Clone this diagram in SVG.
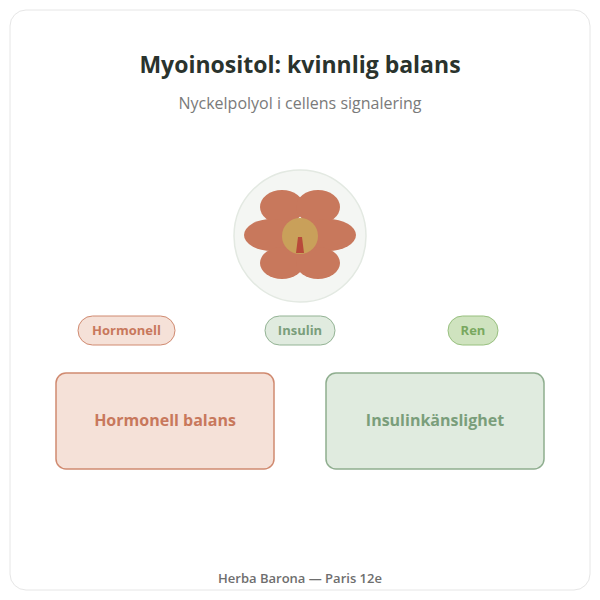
<svg xmlns="http://www.w3.org/2000/svg" width="600" height="600" viewBox="0 0 600 600">
<style>
text{font-family:"Open Sans","Noto Sans","Liberation Sans",sans-serif;text-anchor:middle}
.petal{fill:#c8785c}
.t{font-weight:700;font-size:13px}
.b{font-weight:700;font-size:16px}
</style>
<rect x="0" y="0" width="600" height="600" fill="#fff"/>
<rect x="10" y="10" width="580" height="580" rx="16" fill="#fff" stroke="#e6e6e6"/>
<text x="300" y="73" font-size="23" font-weight="700" fill="#2a332d">Myoinositol: kvinnlig balans</text>
<text x="300" y="109" font-size="16" fill="#7a7a7a">Nyckelpolyol i cellens signalering</text>
<g id="icon">
<circle cx="300" cy="236" r="66" fill="#f4f6f3" stroke="#e3e9e2" stroke-width="1.5"/>
<ellipse class="petal" cx="282" cy="207" rx="22" ry="17"/>
<ellipse class="petal" cx="318" cy="207" rx="22" ry="17"/>
<ellipse class="petal" cx="272" cy="235" rx="28" ry="16"/>
<ellipse class="petal" cx="328" cy="235" rx="28" ry="16"/>
<ellipse class="petal" cx="282" cy="263" rx="22" ry="16"/>
<ellipse class="petal" cx="318" cy="263" rx="22" ry="16"/>
<circle cx="300" cy="236" r="18" fill="#c9a05a"/>
<polygon points="298,237 302,237 304,253 296,253" fill="#b84a3a"/>
</g>
<g id="tag-hormonell"><rect x="78" y="316" width="97" height="29" rx="14.5" fill="#f5e1d8" stroke="#d08a70"/><text class="t" x="126.5" y="335" fill="#c8785c">Hormonell</text></g>
<g id="tag-insulin"><rect x="265" y="316" width="70" height="29" rx="14.5" fill="#e0ebdf" stroke="#93b394"/><text class="t" x="300" y="335" fill="#7a9e7b">Insulin</text></g>
<g id="tag-ren"><rect x="448" y="316" width="50" height="29" rx="14.5" fill="#cfe3bf" stroke="#98c07f"/><text class="t" x="473" y="335" fill="#79a85f">Ren</text></g>
<g id="box-hormonell"><rect x="56" y="373" width="218" height="96" rx="10" fill="#f5e1d8" stroke="#d08a70" stroke-width="1.5"/><text class="b" x="165" y="426" fill="#c8785c">Hormonell balans</text></g>
<g id="box-insulin"><rect x="326" y="373" width="218" height="96" rx="10" fill="#e0ebdf" stroke="#8fae8f" stroke-width="1.5"/><text class="b" x="435" y="426" fill="#7a9e7b">Insulinkänslighet</text></g>
<g id="connectors"></g>
<text x="300" y="583" font-size="13" font-weight="600" fill="#6e6e6e">Herba Barona — Paris 12e</text>
</svg>
